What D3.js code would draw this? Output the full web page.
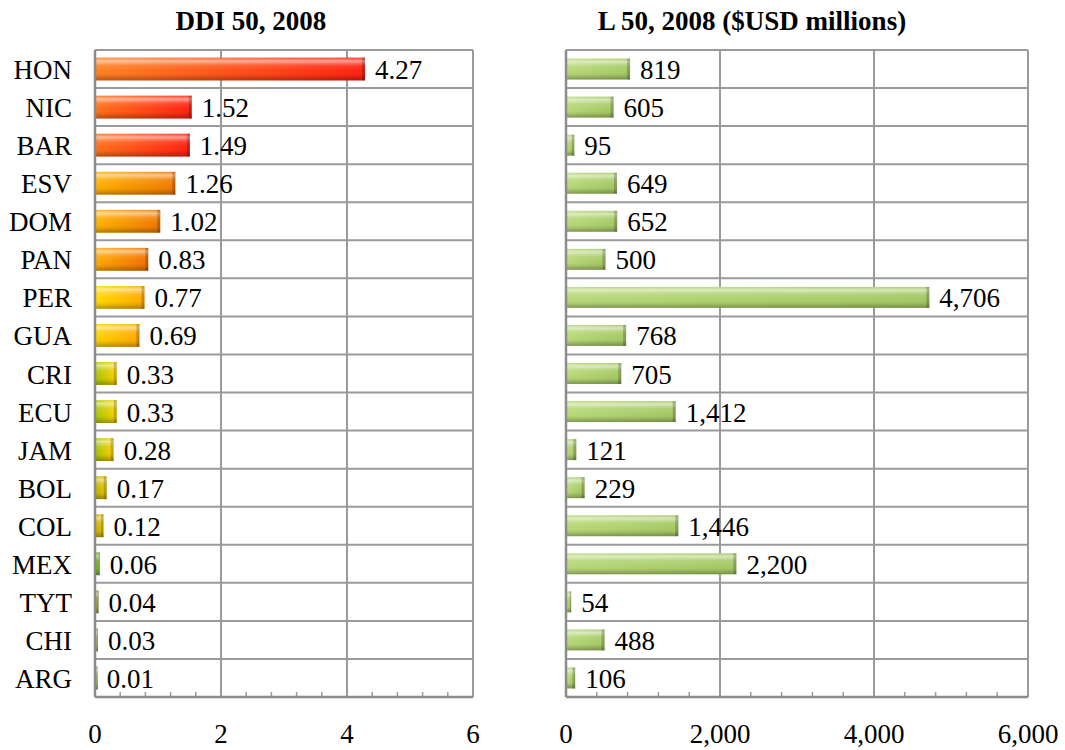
<!DOCTYPE html>
<html>
<head>
<meta charset="utf-8">
<script src="https://cdnjs.cloudflare.com/ajax/libs/d3/7.8.5/d3.min.js"></script>
<style>
  body { margin: 0; background: #fff; }
  text { font-family: "Liberation Serif", "Times New Roman", serif; fill: #000; }
</style>
</head>
<body>
<div id="chart"></div>
<script>
const countries = ['HON', 'NIC', 'BAR', 'ESV', 'DOM', 'PAN', 'PER', 'GUA', 'CRI', 'ECU', 'JAM', 'BOL', 'COL', 'MEX', 'TYT', 'CHI', 'ARG'];
const ddiValues = [4.27, 1.52, 1.49, 1.26, 1.02, 0.83, 0.77, 0.69, 0.33, 0.33, 0.28, 0.17, 0.12, 0.06, 0.04, 0.03, 0.01];
const lossValues = [819, 605, 95, 649, 652, 500, 4706, 768, 705, 1412, 121, 229, 1446, 2200, 54, 488, 106];
const ddiTicks = [0, 2, 4, 6];
const lossTicks = [0, 2000, 4000, 6000];
const titles = ['DDI 50, 2008', 'L 50, 2008 ($USD millions)'];

// bar colours (left end, right end) for the DDI panel
const ddiColorsA = ['#ff8020', '#ff7018', '#ff7018', '#ffb000', '#ffb000', '#ffa800', '#ffd800', '#ffd000', '#a8c800', '#a8c800', '#a8c400', '#c0b400', '#c8b000', '#60b020', '#90a040', '#a4aa70', '#a4aa70'];
const ddiColorsB = ['#ff2010', '#ff2010', '#ff2010', '#f07800', '#f07800', '#f07000', '#ffa800', '#ffa800', '#ffd000', '#ffd000', '#ffcc00', '#e8c800', '#e8c000', '#90c030', '#90a040', '#a4aa70', '#a4aa70'];
const lossColorA = '#b8d878', lossColorB = '#a4c864';

const width = 1065, height = 750;
const plotTop = 50, plotBottom = 697;
const fontSize = 27;

const svg = d3.select('#chart').append('svg').attr('width', width).attr('height', height);
const defs = svg.append('defs');

const gloss = defs.append('linearGradient').attr('id', 'gloss')
    .attr('x1', 0).attr('y1', 0).attr('x2', 0).attr('y2', 1);
[[0, '#fff', 0.1], [0.15, '#fff', 0.55], [0.35, '#fff', 0.12], [0.6, '#fff', 0], [0.8, '#000', 0.08], [1, '#000', 0.3]]
  .forEach(s => gloss.append('stop').attr('offset', s[0]).attr('stop-color', s[1]).attr('stop-opacity', s[2]));

function panel(opts) {
  const x = d3.scaleLinear().domain(opts.domain).range([opts.left, opts.right]);
  const y = d3.scaleBand().domain(countries).range([plotTop, plotBottom])
      .paddingInner(opts.pad).paddingOuter(opts.pad / 2);
  const g = svg.append('g');
  const step = y.step();

  // grid
  g.selectAll('.hline').data(d3.range(1, countries.length)).join('line')
    .attr('x1', opts.left).attr('x2', opts.right)
    .attr('y1', i => plotTop + i * step).attr('y2', i => plotTop + i * step)
    .attr('stroke', '#9a9a9a').attr('stroke-width', 2);
  g.selectAll('.vline').data(opts.ticks).join('line')
    .attr('x1', d => x(d)).attr('x2', d => x(d))
    .attr('y1', plotTop).attr('y2', plotBottom)
    .attr('stroke', '#9a9a9a').attr('stroke-width', 2);
  g.append('line').attr('x1', opts.left).attr('x2', opts.right).attr('y1', plotTop).attr('y2', plotTop)
    .attr('stroke', '#9a9a9a').attr('stroke-width', 2);

  // minor ticks
  const minor = d3.range(opts.domain[0], opts.domain[1], opts.minor).filter(v => opts.ticks.indexOf(v) < 0);
  g.selectAll('.minor').data(minor).join('line')
    .attr('x1', d => x(d)).attr('x2', d => x(d))
    .attr('y1', plotBottom - 5).attr('y2', plotBottom)
    .attr('stroke', '#9a9a9a').attr('stroke-width', 1.5);

  // bars
  opts.values.forEach((v, i) => {
    const grad = defs.append('linearGradient').attr('id', opts.name + i);
    grad.append('stop').attr('offset', 0).attr('stop-color', opts.colorA(i));
    grad.append('stop').attr('offset', 1).attr('stop-color', opts.colorB(i));
  });
  const bars = g.selectAll('.bar').data(opts.values).join('g');
  bars.append('rect')
    .attr('x', x(0) + 1).attr('y', (d, i) => y(countries[i]))
    .attr('width', d => Math.max(2, x(d) - x(0))).attr('height', y.bandwidth())
    .attr('fill', (d, i) => 'url(#' + opts.name + i + ')');
  bars.append('rect')
    .attr('x', x(0) + 1).attr('y', (d, i) => y(countries[i]))
    .attr('width', d => Math.max(2, x(d) - x(0))).attr('height', y.bandwidth())
    .attr('fill', 'url(#gloss)');
  bars.append('rect')
    .attr('x', d => x(d) - Math.min(3, (x(d) - x(0)) / 3) + 1).attr('y', (d, i) => y(countries[i]))
    .attr('width', d => Math.min(3, (x(d) - x(0)) / 3)).attr('height', y.bandwidth())
    .attr('fill', '#000').attr('opacity', 0.2);

  bars.append('text')
    .attr('x', d => x(d) + 11)
    .attr('y', (d, i) => y(countries[i]) + y.bandwidth() / 2 + 10)
    .attr('font-size', fontSize)
    .text(opts.fmt);

  // axis box
  g.append('line').attr('x1', opts.left).attr('x2', opts.left).attr('y1', plotTop).attr('y2', plotBottom)
    .attr('stroke', '#8c8c8c').attr('stroke-width', 2.5);
  g.append('line').attr('x1', opts.left).attr('x2', opts.right).attr('y1', plotBottom).attr('y2', plotBottom)
    .attr('stroke', '#8c8c8c').attr('stroke-width', 2.5);

  // tick labels
  g.selectAll('.tick').data(opts.ticks).join('text')
    .attr('x', d => x(d)).attr('y', 743)
    .attr('text-anchor', 'middle').attr('font-size', fontSize)
    .text(opts.tickFmt);

  svg.append('text').attr('x', opts.titleX).attr('y', 30)
    .attr('text-anchor', 'middle').attr('font-size', fontSize).attr('font-weight', 'bold')
    .text(opts.title);

  return y;
}

const yLeft = panel({
  name: 'ddi', domain: [0, 6], left: 95, right: 473, pad: 0.4, minor: 0.4,
  ticks: ddiTicks, values: ddiValues, title: titles[0], titleX: 251,
  colorA: i => ddiColorsA[i], colorB: i => ddiColorsB[i],
  fmt: d => d3.format('.2f')(d), tickFmt: d => d
});

panel({
  name: 'loss', domain: [0, 6000], left: 566, right: 1028, pad: 0.45, minor: 400,
  ticks: lossTicks, values: lossValues, title: titles[1], titleX: 752,
  colorA: () => lossColorA, colorB: () => lossColorB,
  fmt: d => d3.format(',')(d), tickFmt: d => d3.format(',')(d)
});

// country labels
svg.append('g').selectAll('text').data(countries).join('text')
  .attr('x', 72).attr('y', d => yLeft(d) + yLeft.bandwidth() / 2 + 10)
  .attr('text-anchor', 'end').attr('font-size', fontSize)
  .text(d => d);
</script>
</body>
</html>
